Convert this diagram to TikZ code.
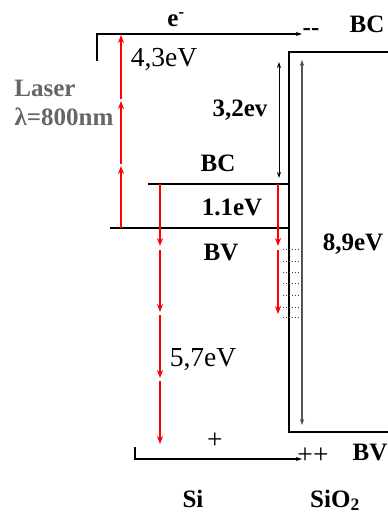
\documentclass[tikz,border=0pt]{standalone}
\usepackage{fontspec}
\setmainfont{Liberation Serif}
\usetikzlibrary{arrows.meta}
\definecolor{lasergray}{HTML}{666666}
\definecolor{midgray}{HTML}{555555}
\tikzset{
  lbl/.style={font=\fontsize{25}{28}\selectfont\bfseries, inner sep=0pt},
  big/.style={font=\fontsize{27.5}{30}\selectfont, inner sep=0pt},
  band/.style={line width=2pt, black},
  redarr/.style={line width=2.5pt, red, -{Stealth[length=8pt,width=6pt]}},
  thinarr/.style={line width=0.9pt, black, {Stealth[length=6pt,width=4pt]}-{Stealth[length=6pt,width=4pt]}},
  grayarr/.style={line width=1.8pt, midgray, {Stealth[length=6pt,width=4.5pt]}-{Stealth[length=6pt,width=4.5pt]}},
  bracket/.style={line width=1.6pt, black, -{Stealth[length=6pt,width=4pt]}},
  trap/.style={line width=0.9pt, darkgray, dotted}
}
\begin{document}
\begin{tikzpicture}[x=1pt,y=-1pt]
\useasboundingbox (0,0) rectangle (388,517);

% top bracket (electron path)
\coordinate (tb0) at (97,61);
\coordinate (tb1) at (97,34);
\coordinate (tb2) at (302,34);
\draw[bracket] (tb0) -- (tb1) -- (tb2);

% bottom bracket (hole path)
\coordinate (bb0) at (135,447);
\coordinate (bb1) at (135,459);
\coordinate (bb2) at (302,459);
\draw[bracket] (bb0) -- (bb1) -- (bb2);

% Si bands
\coordinate (bcL) at (148,184); \coordinate (bcR) at (290,184);
\coordinate (bvL) at (110,228); \coordinate (bvR) at (290,228);
\draw[band] (bcL) -- (bcR);
\draw[band] (bvL) -- (bvR);

% SiO2 box
\coordinate (ox0) at (388,52); \coordinate (ox1) at (289,52);
\coordinate (ox2) at (289,432); \coordinate (ox3) at (388,432);
\draw[band, line join=miter] (ox0) -- (ox1) -- (ox2) -- (ox3);

% laser photon arrows
\coordinate (l0) at (121,228); \coordinate (l1) at (121,166);
\coordinate (l2) at (121,164); \coordinate (l3) at (121,101);
\coordinate (l4) at (121,99);  \coordinate (l5) at (121,35);
\draw[redarr] (l0) -- (l1);
\draw[redarr] (l2) -- (l3);
\draw[redarr] (l4) -- (l5);

% 5,7 eV arrows
\coordinate (d0) at (160,184); \coordinate (d1) at (160,246);
\coordinate (d2) at (160,250); \coordinate (d3) at (160,312);
\coordinate (d4) at (160,315); \coordinate (d5) at (160,378);
\coordinate (d6) at (160,381); \coordinate (d7) at (160,444);
\draw[redarr] (d0) -- (d1);
\draw[redarr] (d2) -- (d3);
\draw[redarr] (d4) -- (d5);
\draw[redarr] (d6) -- (d7);

% relaxation arrows near interface
\coordinate (r0) at (278,184); \coordinate (r1) at (278,246);
\coordinate (r2) at (278,250); \coordinate (r3) at (278,314);
\draw[redarr] (r0) -- (r1);
\draw[redarr] (r2) -- (r3);

% trap levels
\foreach \yy [count=\i] in {249,261,272,283,295,307,317}{
  \coordinate (tL\i) at (283,\yy); \coordinate (tR\i) at (298,\yy);
  \draw[trap] (tL\i) -- (tR\i);
}

% 3,2 eV and 8,9 eV arrows
\coordinate (a0) at (279,62); \coordinate (a1) at (279,178);
\draw[thinarr] (a0) -- (a1);
\coordinate (g0) at (302,60); \coordinate (g1) at (302,425);
\draw[grayarr] (g0) -- (g1);

% labels
\node[lbl] (e) at (176,20) {e\textsuperscript{-}};
\node[lbl] (bctop) at (367,24) {BC};
\node[lbl] (mm) at (311,32) {-{}-};
\node[big] (e43) at (164,60) {4,3eV};
\node[lbl, text=lasergray] (laser) at (45,88) {Laser};
\node[lbl, text=lasergray] (lambda) at (64,117) {λ=800nm};
\node[lbl] (e32) at (240,110) {3,2ev};
\node[lbl] (bcsi) at (218,163) {BC};
\node[lbl] (e11) at (232,207) {1.1eV};
\node[lbl] (bvsi) at (221,252) {BV};
\node[lbl] (e89) at (353,244) {8,9eV};
\node[big] (e57) at (203,360) {5,7eV};
\node[big] (plus) at (215,441) {+};
\node[big] (pp) at (313,456) {++};
\node[lbl] (bvox) at (370,452) {BV};
\node[lbl, anchor=base] (si) at (193,507) {Si};
\node[lbl, anchor=base] (sio2) at (335,507) {SiO\textsubscript{2}};
\end{tikzpicture}
\end{document}
